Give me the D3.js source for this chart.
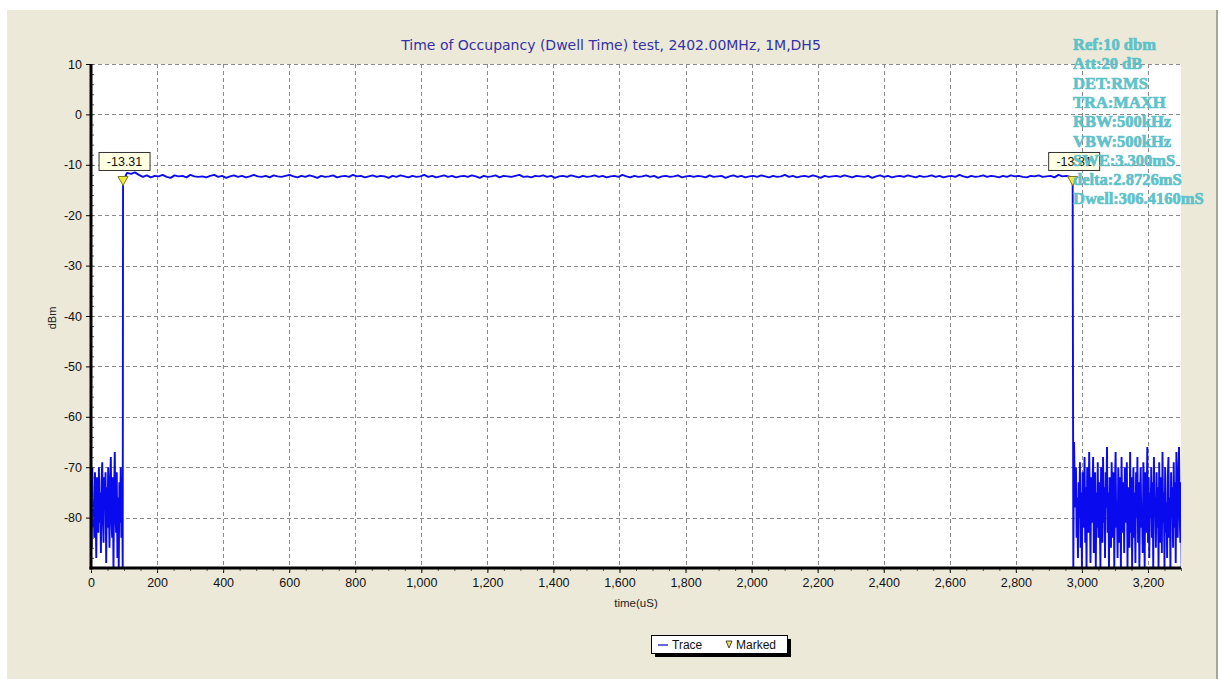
<!DOCTYPE html>
<html>
<head>
<meta charset="utf-8">
<script src="https://cdn.jsdelivr.net/npm/d3@7"></script>
<style>
  body { margin: 0; background: #fff; }
  svg text { font-family: "Liberation Sans", Arial, sans-serif; }
  .info { font-family: "Liberation Serif", "Times New Roman", serif; font-weight: 700; }
</style>
</head>
<body>
<svg id="chart" width="1221" height="679"></svg>
<script>
// title + info texts
const TITLE = "Time of Occupancy (Dwell Time) test, 2402.00MHz, 1M,DH5";
const infoLines = ["Ref:10 dbm", "Att:20 dB", "DET:RMS", "TRA:MAXH", "RBW:500kHz",
  "VBW:500kHz", "SWE:3.300mS", "delta:2.8726mS", "Dwell:306.4160mS"];

// axis ticks
const xTicks = [0, 200, 400, 600, 800, 1000, 1200, 1400, 1600, 1800, 2000, 2200, 2400, 2600, 2800, 3000, 3200];
const yTicks = [10, 0, -10, -20, -30, -40, -50, -60, -70, -80];

// trace segments (start time uS, sample step uS, dBm values)
const leftStart = 0, leftStep = 2;
const leftNoise = [-74,-86,-70,-82,-77,-84,-71,-79,-88,-72,-76,-83,-70,-81,-75,-87,-73,-69,-80,-85,
  -72,-78,-71,-89,-74,-82,-70,-77,-86,-73,-68,-80,-84,-72,-90,-75,-67,-79,-83,-71,
  -88,-76,-90,-73,-81,-70,-84,-72,-90];

const flatStart = 97, flatStep = 12;
const flatTrace = [
  -13.31,-11.6,-11.8,-11.5,-12.0,-12.4,-12.1,-12.5,-12.2,-12.3,-12.0,-12.4,-12.6,-12.1,-12.3,-12.2,-12.5,-12.0,-12.3,-12.4,
  -12.3,-12.5,-12.2,-12.0,-12.4,-12.2,-12.6,-12.3,-12.1,-12.4,-12.2,-12.5,-12.3,-12.0,-12.3,-12.4,-12.2,-12.5,-12.1,-12.3,
  -12.4,-12.2,-12.0,-12.3,-12.5,-12.2,-12.4,-12.1,-12.3,-12.6,-12.2,-12.4,-12.3,-12.1,-12.5,-12.3,-12.2,-12.4,-12.0,-12.3,
  -12.2,-12.5,-12.3,-12.1,-12.4,-12.2,-12.3,-12.6,-12.2,-12.4,-12.1,-12.3,-12.5,-12.2,-12.4,-12.3,-12.0,-12.4,-12.2,-12.5,
  -12.3,-12.1,-12.4,-12.2,-12.5,-12.3,-12.2,-12.4,-12.1,-12.3,-12.6,-12.2,-12.4,-12.3,-12.1,-12.5,-12.2,-12.3,-12.4,-12.2,
  -12.0,-12.4,-12.3,-12.5,-12.2,-12.3,-12.1,-12.4,-12.2,-12.6,-12.3,-12.2,-12.4,-12.1,-12.3,-12.5,-12.2,-12.4,-12.3,-12.1,
  -12.4,-12.2,-12.5,-12.3,-12.2,-12.4,-12.0,-12.3,-12.5,-12.2,-12.4,-12.3,-12.1,-12.4,-12.2,-12.6,-12.3,-12.2,-12.4,-12.3,
  -12.1,-12.5,-12.3,-12.2,-12.4,-12.2,-12.3,-12.5,-12.1,-12.4,-12.3,-12.2,-12.6,-12.3,-12.1,-12.4,-12.2,-12.5,-12.3,-12.2,
  -12.4,-12.1,-12.3,-12.5,-12.2,-12.4,-12.3,-12.0,-12.4,-12.2,-12.5,-12.3,-12.2,-12.4,-12.1,-12.3,-12.6,-12.2,-12.4,-12.3,
  -12.2,-12.4,-12.1,-12.3,-12.5,-12.2,-12.3,-12.4,-12.2,-12.6,-12.3,-12.1,-12.4,-12.2,-12.5,-12.3,-12.2,-12.4,-12.1,-12.3,
  -12.5,-12.2,-12.4,-12.3,-12.1,-12.4,-12.2,-12.5,-12.3,-12.2,-12.4,-12.0,-12.3,-12.5,-12.2,-12.4,-12.3,-12.1,-12.4,-12.2,
  -12.3,-12.5,-12.2,-12.4,-12.1,-12.3,-12.2,-12.4,-12.5,-12.2,-12.3,-12.1,-12.4,-12.3,-12.2,-12.5,-12.0,-12.3,-12.2,-12.4];

const rightStart = 2972, rightStep = 2;
const rightNoise = [
  -13.31,-90,-65,-72,-78,-70,-84,-76,-88,-73,-80,-69,-86,-75,-90,-71,-82,-77,-68,-85,
  -74,-90,-70,-79,-83,-67,-76,-89,-72,-81,-74,-68,-87,-77,-71,-90,-75,-82,-69,-84,
  -73,-79,-90,-70,-76,-85,-68,-81,-74,-88,-71,-78,-66,-83,-75,-90,-72,-80,-86,-69,
  -77,-84,-71,-90,-74,-67,-82,-78,-88,-70,-75,-85,-72,-90,-68,-79,-83,-73,-87,-70,
  -76,-81,-69,-90,-74,-78,-86,-67,-83,-72,-90,-77,-70,-84,-75,-89,-71,-80,-68,-85,
  -73,-90,-76,-70,-82,-78,-87,-69,-74,-90,-71,-83,-77,-66,-85,-72,-88,-75,-80,-70,
  -84,-73,-90,-68,-79,-76,-86,-71,-82,-74,-90,-69,-78,-85,-72,-87,-67,-81,-75,-90,
  -70,-83,-77,-88,-72,-68,-84,-76,-90,-71,-80,-74,-86,-69,-82,-73,-89,-67,-78,-84,
  -71,-66,-79,-85,-73,-90,-70,-81,-76];

// markers
const markerTimes = [97, 2972];
const markerValues = [-13.31, -13.31];

// build the trace points
function segment(start, step, vals) {
  return vals.map((v, i) => ({ t: start + i * step, v: v }));
}
const trace = segment(leftStart, leftStep, leftNoise)
  .concat(segment(flatStart, flatStep, flatTrace))
  .concat(segment(rightStart, rightStep, rightNoise));

const svg = d3.select("#chart");

// panel background
svg.append("rect").attr("x", 7).attr("y", 10).attr("width", 1209).attr("height", 669).attr("fill", "#ece9d8");
svg.append("line").attr("x1", 1217).attr("x2", 1217).attr("y1", 10).attr("y2", 679).attr("stroke", "#a8a699").attr("stroke-width", 2);

const plotL = 91, plotR = 1181, plotT = 64, plotB = 568;

const x = d3.scaleLinear().domain([0, 3300]).range([plotL, plotR]);
const y = d3.scaleLinear().domain([-90, 10]).range([plotB, plotT]);

svg.append("rect").attr("x", plotL).attr("y", plotT).attr("width", plotR - plotL).attr("height", plotB - plotT).attr("fill", "#fff");

// grid
const grid = svg.append("g").attr("stroke", "#8a8a8a").attr("stroke-dasharray", "4,3").attr("stroke-width", 1);
grid.selectAll(".vg").data(xTicks.filter((d) => d > 0)).enter().append("line")
  .attr("x1", (d) => Math.round(x(d)) + 0.5).attr("x2", (d) => Math.round(x(d)) + 0.5)
  .attr("y1", plotT).attr("y2", plotB);
grid.selectAll(".hg").data(yTicks).enter().append("line")
  .attr("y1", (d) => Math.round(y(d)) + 0.5).attr("y2", (d) => Math.round(y(d)) + 0.5)
  .attr("x1", plotL).attr("x2", plotR);

// title
svg.append("text").attr("x", 611).attr("y", 50).attr("text-anchor", "middle")
  .style("font-family", "'DejaVu Sans', Verdana, sans-serif")
  .attr("font-size", 14).attr("fill", "#3232a8").text(TITLE);

// trace
svg.append("clipPath").attr("id", "clip").append("rect")
  .attr("x", plotL).attr("y", plotT).attr("width", plotR - plotL).attr("height", plotB - plotT);

const line = d3.line().x((d) => x(d.t)).y((d) => y(d.v));
svg.append("path").datum(trace).attr("clip-path", "url(#clip)")
  .attr("d", line).attr("fill", "none").attr("stroke", "#0a0aef").attr("stroke-width", 1.9)
  .attr("stroke-linejoin", "bevel");

// axes
const yAxis = d3.axisLeft(y).tickValues(yTicks).tickSize(5).tickFormat((d) => String(d));
const gy = svg.append("g").attr("transform", `translate(${plotL},0)`).call(yAxis);
gy.select(".domain").remove();
gy.selectAll("text").attr("font-size", 12.5).attr("fill", "#111").attr("x", -9)
  .style("font-family", "'Liberation Sans', Arial, sans-serif");

const yMinor = d3.axisRight(y).tickValues(d3.range(-90, 11, 2)).tickSize(3).tickFormat("");
const gym = svg.append("g").attr("transform", `translate(${plotL},0)`).call(yMinor);
gym.select(".domain").remove();
gym.selectAll("line").attr("stroke", "#555");

const xAxis = d3.axisBottom(x).tickValues(xTicks).tickSize(5).tickFormat(d3.format(","));
const gx = svg.append("g").attr("transform", `translate(0,${plotB})`).call(xAxis);
gx.select(".domain").remove();
gx.selectAll("text").attr("font-size", 12.5).attr("fill", "#111").attr("y", 10)
  .style("font-family", "'Liberation Sans', Arial, sans-serif");

const xMinor = d3.axisBottom(x).tickValues(d3.range(0, 3301, 50)).tickSize(3).tickFormat("");
const gxm = svg.append("g").attr("transform", `translate(0,${plotB})`).call(xMinor);
gxm.select(".domain").remove();
gxm.selectAll("line").attr("stroke", "#555");

// thick axis lines
svg.append("line").attr("x1", plotL).attr("x2", plotL).attr("y1", plotT).attr("y2", plotB + 1.5)
  .attr("stroke", "#000").attr("stroke-width", 3);
svg.append("line").attr("x1", plotL - 1.5).attr("x2", plotR).attr("y1", plotB).attr("y2", plotB)
  .attr("stroke", "#000").attr("stroke-width", 3);

// axis titles
svg.append("text").attr("transform", "translate(56,318) rotate(-90)").attr("text-anchor", "middle")
  .attr("font-size", 11).attr("fill", "#222").text("dBm");
svg.append("text").attr("x", 636).attr("y", 607).attr("text-anchor", "middle")
  .attr("font-size", 11.5).attr("fill", "#222").text("time(uS)");

// markers and labels
const markers = markerTimes.map((t, i) => ({ t: t, v: markerValues[i] }));
const mk = svg.selectAll(".marker").data(markers).enter().append("g")
  .attr("transform", (d) => `translate(${x(d.t)},${y(d.v)})`);
mk.append("rect").attr("x", -24).attr("y", -29).attr("width", 51).attr("height", 18)
  .attr("fill", "#ffffe1").attr("stroke", "#333");
mk.append("text").attr("x", 1.5).attr("y", -15.5).attr("text-anchor", "middle")
  .attr("font-size", 12.5).attr("fill", "#111").text((d) => d.v.toFixed(2));
mk.append("path").attr("d", "M-5,-5 L5,-5 L0,4 Z").attr("fill", "#f0e840").attr("stroke", "#807a20");

// info text (stroke thickens the glyphs, like the bold readout)
svg.append("g").selectAll("text").data(infoLines).enter().append("text")
  .attr("class", "info")
  .attr("x", 1073).attr("y", (d, i) => 50 + i * 19.3)
  .attr("font-size", 16.5).attr("fill", "#58c0c8").attr("fill-opacity", 0.95)
  .attr("stroke", "#58c0c8").attr("stroke-width", 0.7).attr("stroke-opacity", 0.95)
  .text((d) => d);

// legend
const lg = svg.append("g").attr("transform", "translate(651,635)");
lg.append("rect").attr("x", 4).attr("y", 4).attr("width", 136).attr("height", 18).attr("fill", "#000");
lg.append("rect").attr("x", 0.5).attr("y", 0.5).attr("width", 136).attr("height", 18).attr("fill", "#fff").attr("stroke", "#000");
lg.append("line").attr("x1", 7).attr("x2", 17).attr("y1", 10).attr("y2", 10).attr("stroke", "#3333cc").attr("stroke-width", 1.5);
lg.append("text").attr("x", 21).attr("y", 14).attr("font-size", 12).attr("fill", "#111").text("Trace");
lg.append("path").attr("d", "M75,6 L81,6 L78,13 Z").attr("fill", "#e8e060").attr("stroke", "#222").attr("stroke-width", 0.8);
lg.append("text").attr("x", 85).attr("y", 14).attr("font-size", 12).attr("fill", "#111").text("Marked");
</script>
</body>
</html>
